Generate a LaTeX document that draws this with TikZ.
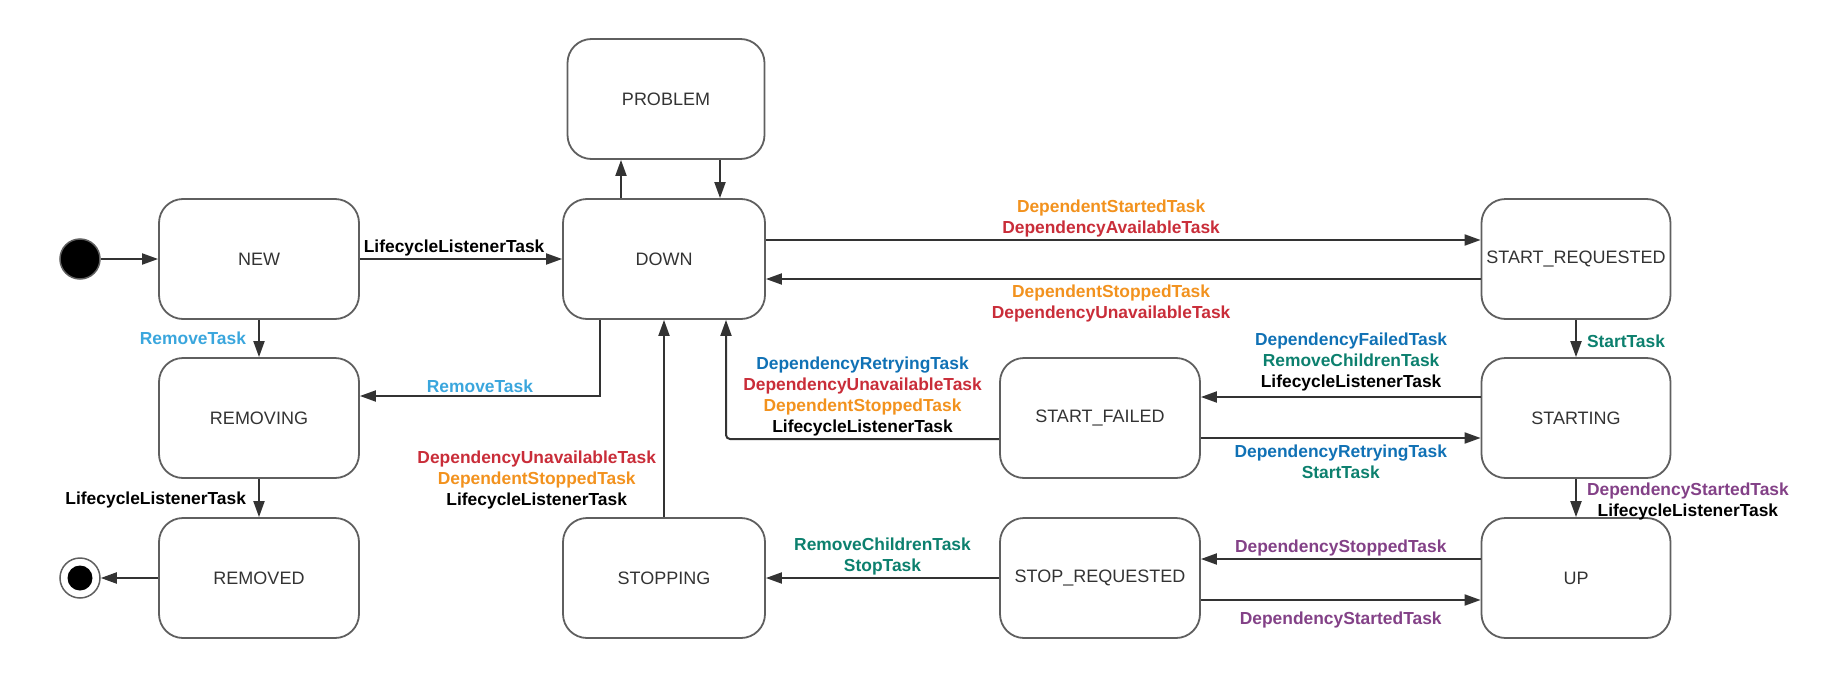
\documentclass[tikz,border=0pt]{standalone}
\usepackage{fontspec}
\setmainfont{Liberation Sans}
\usetikzlibrary{arrows.meta,positioning}
\definecolor{edge}{RGB}{51,51,51}
\definecolor{bord}{RGB}{95,95,95}
\definecolor{sky}{RGB}{58,166,221}
\definecolor{blu}{RGB}{16,113,181}
\definecolor{rd}{RGB}{201,45,57}
\definecolor{org}{RGB}{242,146,30}
\definecolor{grn}{RGB}{12,128,110}
\definecolor{prp}{RGB}{131,65,135}

\begin{document}
\begin{tikzpicture}[x=1pt,y=-1pt,
  state/.style={draw=bord,line width=1.8pt,rounded corners=24pt,minimum width=200pt,minimum height=120pt,
    font=\fontsize{18}{21}\selectfont,text=edge},
  narrow/.style={state,minimum width=189pt},
  trans/.style={draw=edge,line width=2pt,-{Triangle[length=16pt,width=11pt]}},
  lbl/.style={font=\fontsize{17.4}{21}\selectfont\bfseries,align=center,inner sep=2pt}]
  \useasboundingbox (0,0) rectangle (1837,680);
  % start / end
  \node[circle,fill=black,draw=bord,line width=1.5pt,minimum size=40pt,inner sep=0pt] (init) at (80,259) {};
  \node[circle,draw=bord,line width=1.5pt,minimum size=40pt,inner sep=0pt,
    path picture={\fill[black] (path picture bounding box.center) circle (12.5pt);}] (final) at (80,578) {};
  % states
  \node[state] (new) at (259,259) {NEW};
  \node[state] (removing) at (259,418) {REMOVING};
  \node[state] (removed) at (259,578) {REMOVED};
  \node[state,minimum width=197pt] (problem) at (666,99) {PROBLEM};
  \node[state,minimum width=202pt] (down) at (664,259) {DOWN};
  \node[state,minimum width=202pt] (stopping) at (664,578) {STOPPING};
  \node[state] (startfailed) at (1100,418) {START\_FAILED};
  \node[state] (stopreq) at (1100,578) {STOP\_REQUESTED};
  \node[narrow] (startreq) at (1576,259) {START\_REQUESTED};
  \node[narrow] (starting) at (1576,418) {STARTING};
  \node[narrow] (up) at (1576,578) {UP};
  % bend / offset points
  \coordinate (pu) at (621,0); \coordinate (pd) at (720,0);
  \coordinate (rmv) at (600,396); \coordinate (sfd) at (726,439);
  \coordinate (go) at (0,240); \coordinate (back) at (0,279);
  \coordinate (fail) at (0,397); \coordinate (retry) at (0,438);
  \coordinate (stp) at (0,559); \coordinate (sta) at (0,600);

  \draw[trans] (init) -- (new);
  \draw[trans] (new) -- (down) node[lbl,pos=0.466,above] (t1) {LifecycleListenerTask};
  \draw[trans] (new) -- (removing) node[lbl,midway,left=10pt,text=sky] (t2) {RemoveTask};
  \draw[trans] (down.south -| rmv) |- (removing.east |- rmv) node[lbl,pos=0.75,above,text=sky] (t3) {RemoveTask};
  \draw[trans] (removing) -- (removed) node[lbl,midway,left=10pt,yshift=-2pt] (t4) {LifecycleListenerTask};
  \draw[trans] (removed) -- (final);
  \draw[trans] (down.north -| pu) -- (problem.south -| pu);
  \draw[trans] (problem.south -| pd) -- (down.north -| pd);
  \draw[trans] (down.east |- go) -- (startreq.west |- go)
    node[lbl,pos=0.483,above] (t5) {\textcolor{org}{DependentStartedTask}\\\textcolor{rd}{DependencyAvailableTask}};
  \draw[trans] (startreq.west |- back) -- (down.east |- back)
    node[lbl,pos=0.517,below=3pt] (t6) {\textcolor{org}{DependentStoppedTask}\\\textcolor{rd}{DependencyUnavailableTask}};
  \draw[trans] (startreq) -- (starting) node[lbl,midway,right=8pt,yshift=-3pt,text=grn] (t7) {StartTask};
  \draw[trans] (starting.west |- fail) -- (startfailed.east |- fail)
    node[lbl,pos=0.463,above=3pt] (t8) {\textcolor{blu}{DependencyFailedTask}\\\textcolor{grn}{RemoveChildrenTask}\\LifecycleListenerTask};
  \draw[trans] (startfailed.east |- retry) -- (starting.west |- retry)
    node[lbl,midway,below=4pt] (t9) {\textcolor{blu}{DependencyRetryingTask}\\\textcolor{grn}{StartTask}};
  \draw[trans,rounded corners=4pt] (startfailed.west |- sfd) -| (down.south -| sfd)
    node[lbl,pos=0.25,above] (t10) {\textcolor{blu}{DependencyRetryingTask}\\\textcolor{rd}{DependencyUnavailableTask}\\\textcolor{org}{DependentStoppedTask}\\LifecycleListenerTask};
  \draw[trans] (starting) -- (up)
    node[lbl,midway,right=8pt,yshift=-3pt] (t11) {\textcolor{prp}{DependencyStartedTask}\\LifecycleListenerTask};
  \draw[trans] (up.west |- stp) -- (stopreq.east |- stp) node[lbl,midway,above,text=prp] (t12) {DependencyStoppedTask};
  \draw[trans] (stopreq.east |- sta) -- (up.west |- sta) node[lbl,midway,below=9pt,text=prp] (t13) {DependencyStartedTask};
  \draw[trans] (stopreq) -- (stopping) node[lbl,midway,above,text=grn] (t14) {RemoveChildrenTask\\StopTask};
  \draw[trans] (stopping) -- (down)
    node[lbl,pos=0.19,left=5pt] (t15) {\textcolor{rd}{DependencyUnavailableTask}\\\textcolor{org}{DependentStoppedTask}\\LifecycleListenerTask};
\end{tikzpicture}
\end{document}
